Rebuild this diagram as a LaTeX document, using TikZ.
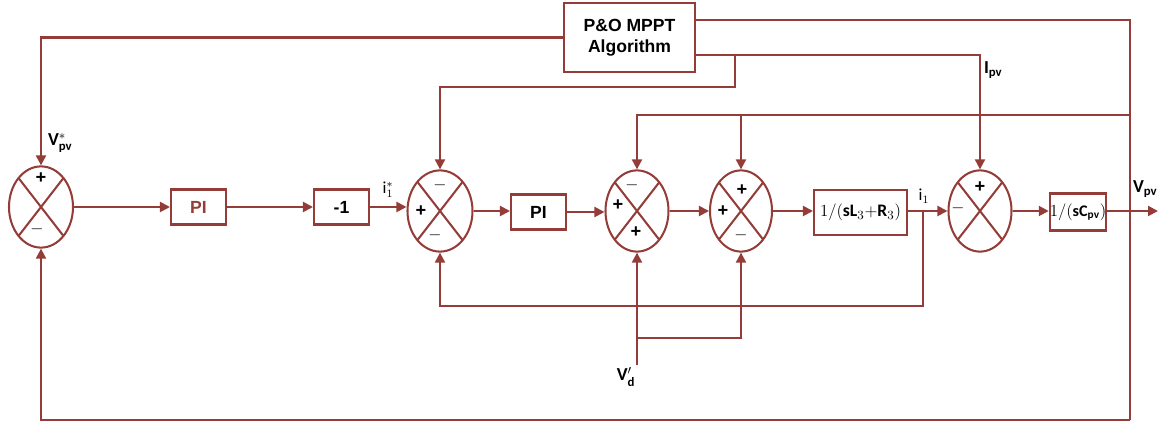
\documentclass[tikz,border=0pt]{standalone}
\usepackage{amsmath}
\usepackage{fontspec}
\setmainfont{Carlito}
\newfontfamily\arialfont{Liberation Sans}
\usetikzlibrary{shapes.geometric,arrows.meta,calc}
\definecolor{wire}{RGB}{148,60,56}
\begin{document}
\begin{tikzpicture}[x=0.025cm,y=-0.025cm,
  line width=1.45pt, color=wire,
  arr/.style={-{Triangle[length=2.5mm,width=2.5mm]}},
  summer/.style={ellipse,draw=wire,minimum width=1.6cm,minimum height=2.03cm,inner sep=0pt,
    path picture={\draw[wire] (path picture bounding box.center) ++(-22.8,-29.4) -- ++(45.6,58.8);
                  \draw[wire] (path picture bounding box.center) ++(22.8,-29.4) -- ++(-45.6,58.8);}},
  blk/.style={rectangle,draw=wire,inner sep=0pt},
  bigtxt/.style={font=\arialfont\bfseries\fontsize{12.5}{14}\selectfont},
  lbl/.style={font=\bfseries\fontsize{13}{15}\selectfont,inner sep=0pt,text=black},
  sgn/.style={font=\arialfont\bfseries\fontsize{13}{13}\selectfont,inner sep=0pt,text=black},
  mns/.style={font=\fontsize{13}{13}\selectfont,inner sep=0pt,text=black}]
\useasboundingbox (0,0) rectangle (1160,426);

% blocks
\node[summer] (S1) at (41,207) {};
\node[blk,minimum width=1.375cm,minimum height=0.875cm,bigtxt,text=wire] (PI1) at (198.5,207) {PI};
\node[blk,minimum width=1.375cm,minimum height=0.875cm,bigtxt,text=black] (m1) at (341.5,207) {-1};
\node[summer,minimum width=1.625cm] (S2) at (440,211) {};
\node[blk,minimum width=1.375cm,minimum height=0.875cm,bigtxt,text=black] (PI2) at (538.5,212) {PI};
\node[summer,minimum width=1.575cm] (S3) at (637,211) {};
\node[summer,minimum width=1.55cm] (S4) at (741,211) {};
\node[blk,minimum width=2.325cm,minimum height=1.125cm,font=\fontsize{12.5}{14}\selectfont,text=black] (L3) at (860.5,212.5)
  {$1/($\textbf{sL}$_{\scriptstyle 3}+$\textbf{R}$_{\scriptstyle 3})$};
\node[summer,minimum width=1.575cm] (S5) at (980,211) {};
\node[blk,minimum width=1.35cm,minimum height=0.925cm,font=\fontsize{11.5}{14}\selectfont,text=black] (Cpv) at (1078,212)
  {$1/($\textbf{sC}$_{\textbf{pv}})$};
\node[blk,minimum width=3.275cm,minimum height=1.725cm,bigtxt,text=black,align=center] (PO) at (629.5,37.5)
  {P\&O MPPT\\[1pt]Algorithm};

% coordinates
\coordinate (r1) at (1130,20);
\coordinate (r2) at (1130,420);
\coordinate (ipv) at (980,55);
\coordinate (b1) at (735,55);
\coordinate (b2) at (735,87);
\coordinate (v1) at (1130,115);
\coordinate (i1) at (923,211);
\coordinate (i1b) at (923,306);
\coordinate (vd) at (637,365);
\coordinate (vdb) at (637,338);
\coordinate (out) at (1158,211);

% connectors
\draw[arr] (PO.west) -| (S1.north);
\draw (PO.north east |- r1) -- (r1) -- (r2);
\draw[arr] (r2) -| (S1.south);
\draw[arr] (PO.east |- ipv) -| (S5.north);
\draw[arr] (b1) -- (b2) -| (S2.north);
\draw[arr] (v1) -| (S3.north);
\draw[arr] (S4.north |- v1) -- (S4.north);

\draw[arr] (S1.east) -- (PI1.west);
\draw[arr] (PI1.east) -- (m1.west);
\draw[arr] (m1.east) -- (m1.east -| S2.west);
\draw[arr] (S2.east) -- (S2.east -| PI2.west);
\draw[arr] (PI2.east) -- (PI2.east -| S3.west);
\draw[arr] (S3.east) -- (S4.west);
\draw[arr] (S4.east) -- (S4.east -| L3.west);
\draw[arr] (L3.east |- S5.west) -- (S5.west);
\draw[arr] (S5.east) -- (S5.east -| Cpv.west);
\draw[arr] (Cpv.east |- out) -- (out);

\draw[arr] (i1) -- (i1b) -| (S2.south);
\draw[arr] (vd) -- (S3.south);
\draw[arr] (vdb) -| (S4.south);

% labels
\node[lbl,anchor=west] (lvs) at (47,143) {V$^{*}_{\textbf{pv}}$};
\node[font=\fontsize{12}{14}\selectfont,inner sep=0pt,text=black] (li1s) at (388,190) {$\mathrm{i}^{*}_{1}$};
\node[font=\fontsize{12}{14}\selectfont,inner sep=0pt,text=black] (li1) at (924,196) {$\mathrm{i}_{1}$};
\node[lbl,anchor=west] (lipv) at (983,70) {I$_{\textbf{pv}}$};
\node[lbl,anchor=west] (lvpv) at (1132,189) {V$_{\textbf{pv}}$};
\node[lbl] (lvd) at (626,377) {V$^{\prime}_{\textbf{d}}$};

% signs
\node[sgn] (s1a) at (41,178) {+};
\node[mns] (s1b) at (37,229) {$-$};
\node[mns] (s2a) at (440,185) {$-$};
\node[sgn] (s2b) at (421,211) {+};
\node[mns] (s2c) at (435,235) {$-$};
\node[mns] (s3a) at (632,185) {$-$};
\node[sgn] (s3b) at (618,205) {+};
\node[sgn] (s3c) at (636,232) {+};
\node[sgn] (s4a) at (742,190) {+};
\node[sgn] (s4b) at (723,211) {+};
\node[mns] (s4c) at (741,235) {$-$};
\node[sgn] (s5a) at (980,187) {+};
\node[mns] (s5b) at (958,208) {$-$};
\end{tikzpicture}
\end{document}
